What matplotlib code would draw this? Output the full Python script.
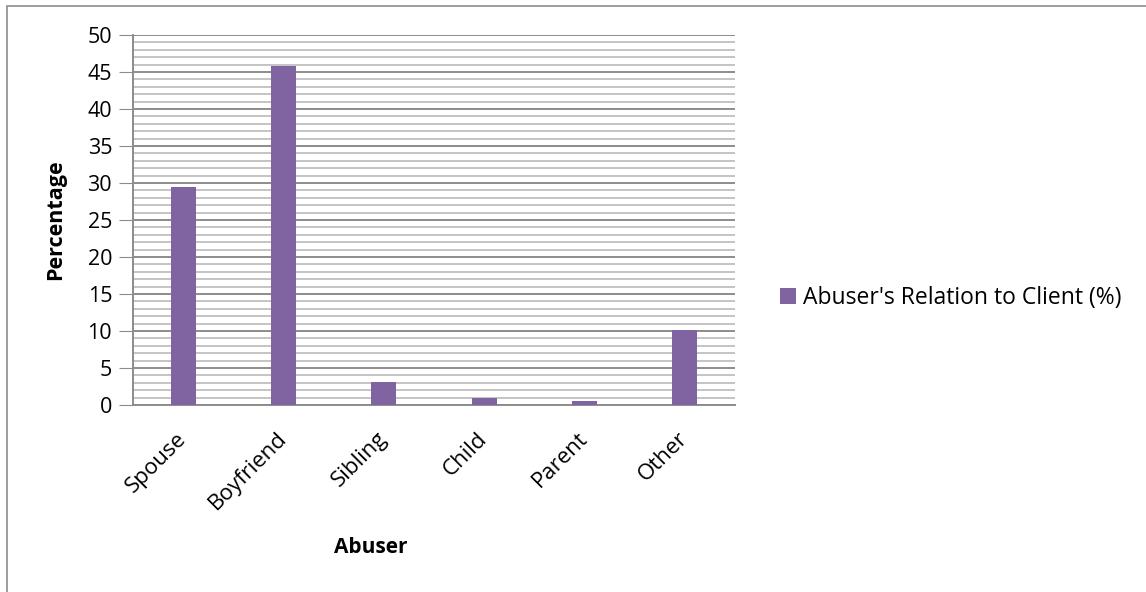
import matplotlib.pyplot as plt
from matplotlib.patches import Rectangle
from matplotlib.ticker import MultipleLocator

categories = ['Spouse', 'Boyfriend', 'Sibling', 'Child', 'Parent', 'Other']
values = [29.4, 45.8, 3.1, 1.0, 0.5, 10.1]
series_name = "Abuser's Relation to Client (%)"

plt.rcParams['font.family'] = ['Open Sans', 'DejaVu Sans']

fig = plt.figure(figsize=(11.46, 5.92), dpi=100)
ax = fig.add_axes([133/1146, 1 - 405/592, 602/1146, 370/592])

# outer chart border
fig.patches.append(Rectangle((7/1146, -0.05), 1.1, 1 - 6/592 + 0.05, transform=fig.transFigure,
                             fill=False, edgecolor='#8c8c8c', linewidth=1.2))

x = range(len(categories))
ax.bar(x, values, width=0.25, color='#8064A2', label=series_name, zorder=3)

ax.set_xlim(-0.5, len(categories) - 0.5)
ax.set_ylim(0, 50)
ax.yaxis.set_major_locator(MultipleLocator(5))
ax.yaxis.set_minor_locator(MultipleLocator(1))
ax.grid(which='major', axis='y', color='#8c8c8c', linewidth=1.4, zorder=0)
ax.grid(which='minor', axis='y', color='#b4b4b4', linewidth=1.1, zorder=0)

ax.set_xticks(list(x))
ax.set_xticklabels(categories, rotation=45, ha='right', va='center', rotation_mode='anchor', fontsize=16)
ax.tick_params(axis='x', length=0, pad=22)
ax.tick_params(axis='y', which='major', length=10, color='#8c8c8c', labelsize=15.5, pad=5)
ax.tick_params(axis='y', which='minor', length=0)

for s in ['top', 'right']:
    ax.spines[s].set_visible(False)
for s in ['left', 'bottom']:
    ax.spines[s].set_color('#8c8c8c')
    ax.spines[s].set_linewidth(1.4)

ax.set_ylabel('Percentage', fontsize=15.5, fontweight='bold')
ax.yaxis.set_label_coords((66 - 133) / 602, 0.5)
ax.set_xlabel('Abuser', fontsize=15, fontweight='bold')
ax.xaxis.set_label_coords((371 - 133) / 602, -132 / 370)

ax.legend(loc='center left', bbox_to_anchor=(1.06, 0.29), frameon=False, fontsize=16.5,
          handlelength=0.7, handleheight=0.7, handletextpad=0.3, borderaxespad=0)

fig.savefig('out.png', dpi=100)
